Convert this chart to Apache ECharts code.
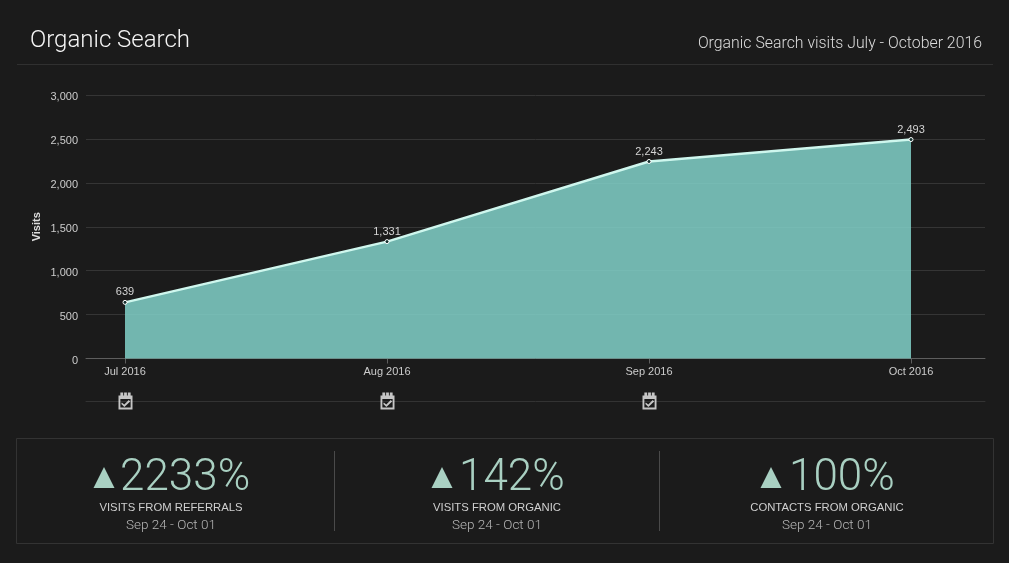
<![CDATA[<!DOCTYPE html>
<html><head><meta charset="utf-8">
<style>html,body{margin:0;padding:0;background:#1b1b1b}#c{width:1009px;height:563px}</style>
<script src="https://cdn.jsdelivr.net/npm/echarts@6/dist/echarts.min.js"></script>
</head><body><div id="c"></div>
<script>
const months = ['Jul 2016','Aug 2016','Sep 2016','Oct 2016'];
const visits = [639,1331,2243,2493];
const eventMonths = [0,1,2];
const yTicks = [0,500,1000,1500,2000,2500,3000];
const kpiValues = ['2233%','142%','100%'];
const kpiLabels = ['VISITS FROM REFERRALS','VISITS FROM ORGANIC','CONTACTS FROM ORGANIC'];
const kpiDates = ['Sep 24 - Oct 01','Sep 24 - Oct 01','Sep 24 - Oct 01'];
const kpiCenters = [171,497,827];
const kpiTextX = [120,459,789];
const kpiTriX = [104,442,771];

const SANS = '"Liberation Sans", Arial, sans-serif';
const LIGHT = 'Roboto, "Liberation Sans", sans-serif';
const monthIdx = months.map((m,i)=>i);
const xMin = -39/262, xMax = 3 + 74/262;
const icon = 'path://M0 3H2V0H5V3H6V0H9V3H10V0H13V3H15V17H0ZM2 6.5V15H13V6.5ZM3.5 10L6.2 12L11 7.5L12.5 9L6.3 14.5L3 11.5Z';

const g = [];
g.push({type:'line',silent:true,shape:{x1:17,y1:64.5,x2:993,y2:64.5},style:{stroke:'#303030',lineWidth:1}});
g.push({type:'text',style:{x:30,y:41,text:'Organic Search',fill:'#f5f5f5',font:'300 24px '+LIGHT,textVerticalAlign:'middle'}});
g.push({type:'text',style:{x:982,y:44,text:'Organic Search visits July - October 2016',fill:'#dcdcdc',font:'300 15.85px '+LIGHT,textAlign:'right',textVerticalAlign:'middle'}});
g.push({type:'rect',silent:true,shape:{x:16.5,y:438.5,width:977,height:105},style:{fill:'none',stroke:'#333333',lineWidth:1}});
[334.5,659.5].forEach(x=>g.push({type:'line',silent:true,shape:{x1:x,y1:451,x2:x,y2:531},style:{stroke:'#4a4a4a',lineWidth:1}}));
kpiValues.forEach((v,i)=>{
  const tx=kpiTriX[i];
  g.push({type:'polygon',silent:true,shape:{points:[[tx-10.5,488],[tx,467],[tx+10.5,488]]},style:{fill:'#a9d0c2'}});
  g.push({type:'text',style:{x:kpiTextX[i],y:477,text:v,fill:'#a9d0c2',font:'44px '+LIGHT.replace('Roboto','Roboto Light, Roboto'),textVerticalAlign:'middle'}});
  g.push({type:'text',style:{x:kpiCenters[i],y:508,text:kpiLabels[i],fill:'#cfcfcf',font:'11.3px '+SANS,textAlign:'center',textVerticalAlign:'middle'}});
  g.push({type:'text',style:{x:kpiCenters[i],y:526,text:kpiDates[i],fill:'#b5b5b5',font:'300 13.5px '+LIGHT,textAlign:'center',textVerticalAlign:'middle'}});
});

const chart = echarts.init(document.getElementById('c'),null,{renderer:'canvas'});
chart.setOption({
  backgroundColor:'#1b1b1b',
  animation:false,
  textStyle:{fontFamily:SANS},
  graphic:g,
  grid:[
    {left:86,right:24,top:95,height:263.5},
    {left:86,right:24,top:401.5,height:0.01}
  ],
  xAxis:[
    {type:'value',gridIndex:0,min:xMin,max:xMax,splitLine:{show:false},
     axisLine:{show:true,onZero:false,lineStyle:{color:'#5e5e5e'}},
     axisTick:{show:true,length:5,lineStyle:{color:'#5e5e5e'},customValues:monthIdx},
     axisLabel:{color:'#cccccc',fontSize:11,margin:8,customValues:monthIdx,formatter:v=>months[v]}},
    {type:'value',gridIndex:1,min:xMin,max:xMax,splitLine:{show:false},
     axisLine:{show:true,onZero:false,lineStyle:{color:'#333333'}},axisTick:{show:false},axisLabel:{show:false}}
  ],
  yAxis:[
    {type:'value',gridIndex:0,min:0,max:3000,interval:500,name:'Visits',nameLocation:'middle',nameGap:44,nameRotate:90,nameMoveOverlap:false,
     nameTextStyle:{color:'#dddddd',fontSize:11,fontWeight:'bold'},
     axisLine:{show:false},axisTick:{show:false},
     axisLabel:{color:'#cccccc',fontSize:11,margin:8,verticalAlign:'top',lineHeight:4,customValues:yTicks,formatter:v=>v.toLocaleString('en-US')},
     splitLine:{show:true,lineStyle:{color:'#353535'}}},
    {type:'value',gridIndex:1,min:0,max:1,show:false}
  ],
  series:[
    {type:'line',xAxisIndex:0,yAxisIndex:0,data:visits.map((v,i)=>[i,v]),
     lineStyle:{color:'#cff7ee',width:2.4},
     areaStyle:{color:'#81d1c8',opacity:0.86},
     showAllSymbol:true,symbol:'circle',symbolSize:4,
     itemStyle:{color:'#12302e',borderColor:'#ffffff',borderWidth:1},
     label:{show:true,position:'top',distance:2,color:'#d4d4d4',fontSize:11,formatter:p=>p.value[1].toLocaleString('en-US')},
     z:3},
    {type:'scatter',xAxisIndex:1,yAxisIndex:1,data:eventMonths.map(i=>[i,0.5]),
     symbol:icon,symbolSize:[14,17],symbolOffset:[0.5,-0.5],itemStyle:{color:'#f0f0f0'},z:4}
  ]
});
</script></body></html>]]>
